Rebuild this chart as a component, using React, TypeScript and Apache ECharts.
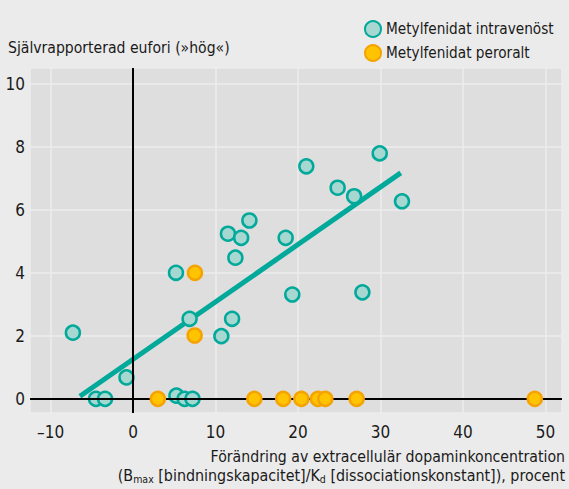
import React, { useEffect, useRef } from "react";
import * as echarts from "echarts";

const FONT = "'Liberation Sans Narrow', 'DejaVu Sans Condensed', 'Roboto Condensed', sans-serif";

// Metylfenidat intravenöst: [x (%), y (eufori)]
const intravenous: [number, number][] = [
  [-7.3, 2.1], [-4.5, 0], [-3.4, 0], [-0.8, 0.68],
  [5.2, 4.0], [5.25, 0.1], [6.25, 0], [7.2, 0], [6.85, 2.54],
  [10.7, 1.99], [12.0, 2.54], [11.5, 5.24], [13.1, 5.11], [12.4, 4.48],
  [14.1, 5.66], [18.5, 5.11], [19.3, 3.31], [21.0, 7.38], [24.8, 6.7],
  [26.8, 6.43], [27.8, 3.38], [29.9, 7.79], [32.6, 6.27],
];

// Metylfenidat peroralt
const peroral: [number, number][] = [
  [7.5, 4.0], [7.46, 2.01], [3.0, 0], [14.7, 0], [18.2, 0], [20.4, 0],
  [22.4, 0], [23.3, 0], [27.1, 0], [48.7, 0],
];

// Regression line endpoints
const trend: [number, number][] = [[-6.45, 0.08], [32.45, 7.17]];

const seriesNames = ["Metylfenidat intravenöst", "Metylfenidat peroralt"];
const yTitle = "Självrapporterad eufori (»hög«)";
const xTitle1 = "Förändring av extracellulär dopaminkoncentration";
const xTitle2 = "(B{sub|max} [bindningskapacitet]/K{sub|d} [dissociationskonstant]), procent";

export default function App() {
  const ref = useRef<HTMLDivElement>(null);
  useEffect(() => {
    if (!ref.current) return;
    const chart = echarts.init(ref.current, null, { renderer: "svg" });
    const fmt = (v: number) => {
      if (Math.abs(v - Math.round(v)) > 1e-6) return "";
      return v < 0 ? "\u2013" + Math.abs(v) : String(v);
    };
    chart.setOption({
      animation: false,
      backgroundColor: "#ebebeb",
      textStyle: { fontFamily: FONT },
      grid: {
        left: 30, top: 68, right: 7, bottom: 76,
        show: true, backgroundColor: "#dedede", borderWidth: 0,
      },
      legend: {
        orient: "vertical",
        left: 359, top: 15,
        itemWidth: 16, itemHeight: 16, itemGap: 6,
        data: seriesNames,
        textStyle: { fontFamily: FONT, fontSize: 15.2, lineHeight: 18, color: "#1a1a1a" },
      },
      xAxis: {
        type: "value", min: -12.5, max: 52, splitNumber: 6,
        axisLine: { show: false }, axisTick: { show: false },
        axisLabel: {
          formatter: (v: number) => (v % 10 === 0 ? fmt(v) : ""),
          showMinLabel: false, showMaxLabel: false,
          fontFamily: FONT, fontSize: 17, color: "#1a1a1a", margin: 10,
        },
        splitLine: { show: true, lineStyle: { color: "#ececec", width: 1.5 } },
      },
      yAxis: {
        type: "value", min: -0.45, max: 10.5,
        axisLine: { show: false }, axisTick: { show: false },
        axisLabel: {
          formatter: (v: number) => (Math.abs(v % 2) < 1e-6 ? fmt(v) : ""),
          showMinLabel: false, showMaxLabel: false,
          fontFamily: FONT, fontSize: 17, color: "#1a1a1a", margin: 5,
        },
        splitLine: { show: true, lineStyle: { color: "#ececec", width: 1.5 } },
      },
      graphic: [
        {
          type: "text", left: 8, top: 40,
          style: { text: yTitle, fontFamily: FONT, fontSize: 15.6, fill: "#1a1a1a" },
        },
        {
          type: "text", right: 4, top: 448,
          style: { text: xTitle1, fontFamily: FONT, fontSize: 15.7, fill: "#1a1a1a" },
        },
        {
          type: "text", right: 4, top: 467,
          style: {
            text: xTitle2,
            fontFamily: FONT, fontSize: 15.9, fill: "#1a1a1a",
            rich: {
              sub: { fontFamily: FONT, fontSize: 10.5, fill: "#1a1a1a", padding: [8, 0, 0, 0] },
            },
          },
        },
      ],
      series: [
        {
          type: "line",
          data: trend,
          symbol: "none",
          z: 2,
          silent: true,
          lineStyle: { color: "#00a99a", width: 5 },
          markLine: {
            silent: true,
            symbol: "none",
            label: { show: false },
            lineStyle: { color: "#000", width: 2, type: "solid" },
            data: [{ xAxis: 0 }, { yAxis: 0 }],
          },
        },
        {
          name: seriesNames[0],
          type: "scatter",
          data: intravenous,
          symbolSize: 14,
          z: 4,
          itemStyle: { color: "#a6d8d1", borderColor: "#00a99a", borderWidth: 2.5, opacity: 1 },
        },
        {
          name: seriesNames[1],
          type: "scatter",
          data: peroral,
          symbolSize: 14,
          z: 5,
          itemStyle: { color: "#ffc300", borderColor: "#f5a300", borderWidth: 2.5, opacity: 1 },
        },
      ],
    });
    return () => chart.dispose();
  }, []);
  return (
    <div
      ref={ref}
      style={{ position: "fixed", left: 0, top: 0, width: 569, height: 489 }}
    />
  );
}
